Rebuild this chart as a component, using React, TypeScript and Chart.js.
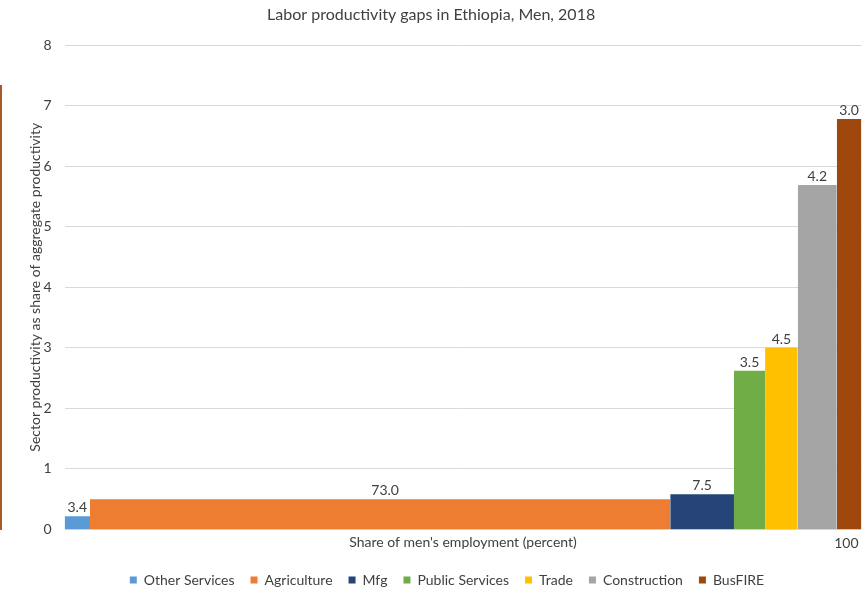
import React, { useEffect, useRef } from 'react';
import { Chart, registerables } from 'chart.js';

Chart.register(...registerables);

const chartTitle = 'Labor productivity gaps in Ethiopia, Men, 2018';
const xAxisTitle = "Share of men's employment (percent)";
const yAxisTitle = 'Sector productivity as share of aggregate productivity';

const sectors = ['Other Services', 'Agriculture', 'Mfg', 'Public Services', 'Trade', 'Construction', 'BusFIRE'];
// data labels shown above each bar (share of employment, percent)
const employmentShareLabels = [3.4, 73.0, 7.5, 3.5, 4.5, 4.2, 3.0];
// bar widths along the 0-100 employment axis
const employmentWidths = [3.2, 72.8, 8.0, 3.9, 4.1, 4.9, 3.1];
// sector productivity relative to aggregate productivity
const relativeProductivity = [0.22, 0.5, 0.58, 2.62, 3.0, 5.69, 6.78];
const sectorColors = ['#5B9BD5', '#ED7D31', '#264478', '#70AD47', '#FFC000', '#A5A5A5', '#9E480E'];
const xTickValues = [100];
const yMin = 0;
const yMax = 8;

const FONT = 'Lato, "Open Sans", sans-serif';
const TEXT = '#404040';
const FS = 14;

export default function App() {
  const canvasRef = useRef<HTMLCanvasElement | null>(null);

  useEffect(() => {
    document.body.style.margin = '0';
    const canvas = canvasRef.current;
    if (!canvas) return;

    let start = 0;
    const datasets = sectors.map((name, i) => {
      const x0 = start;
      const x1 = start + employmentWidths[i];
      start = x1;
      const h = relativeProductivity[i];
      return {
        label: name,
        data: [
          { x: x0, y: 0 },
          { x: x0, y: h },
          { x: x1, y: h },
          { x: x1, y: 0 },
        ],
        backgroundColor: sectorColors[i],
        borderColor: sectorColors[i],
        borderWidth: 0,
        pointRadius: 0,
        pointHoverRadius: 0,
        tension: 0,
        fill: 'origin',
      };
    });

    const barLabels = {
      id: 'barLabels',
      afterDatasetsDraw(chart: any) {
        const { ctx, scales } = chart;
        const xs = scales.x;
        const ys = scales.y;
        ctx.save();
        ctx.font = `${FS}px ${FONT}`;
        ctx.fillStyle = TEXT;
        ctx.textAlign = 'center';
        ctx.textBaseline = 'alphabetic';
        let s = 0;
        sectors.forEach((_, i) => {
          const mid = s + employmentWidths[i] / 2;
          s += employmentWidths[i];
          const px = xs.getPixelForValue(mid);
          const py = ys.getPixelForValue(relativeProductivity[i]);
          ctx.fillText(employmentShareLabels[i].toFixed(1), px + (i === 1 ? 5 : 0), py - 4);
        });
        ctx.restore();
      },
    };

    const legendPlace = {
      id: 'legendPlace',
      afterLayout(chart: any) {
        const l = chart.legend;
        if (!l || !l.lineWidths) return;
        const p = l.options.labels.padding;
        const lw = l.lineWidths[0];
        const targetCenter = 447;
        const desiredStart = targetCenter - (lw - p) / 2;
        const curStart = (l.left + p + l.right - lw) / 2;
        l.left += 2 * (desiredStart - curStart);
        const targetY = 580;
        const curY = l.top + p + FS / 2;
        const dy = targetY - curY;
        l.top += dy;
        l.bottom += dy;
      },
    };

    const chart = new Chart(canvas, {
      type: 'line',
      data: { datasets: datasets as any },
      options: {
        animation: false,
        responsive: false,
        events: [],
        layout: { padding: { left: 0, right: 4.7, top: 0, bottom: 0 } },
        plugins: {
          title: {
            display: true,
            text: chartTitle,
            color: TEXT,
            font: { family: FONT, size: 16, weight: 'normal' },
            padding: { top: 5.5, bottom: 20.3 },
          },
          legend: {
            position: 'bottom',
            labels: {
              boxWidth: 7,
              boxHeight: 7,
              padding: 16,
              color: TEXT,
              font: { family: FONT, size: FS },
            },
          },
          tooltip: { enabled: false },
        },
        scales: {
          x: {
            type: 'linear',
            min: 0,
            max: 100,
            afterBuildTicks: (scale: any) => {
              scale.ticks = xTickValues.map((v) => ({ value: v }));
            },
            afterFit: (scale: any) => {
              scale.height = 22.5;
            },
            ticks: {
              align: 'end',
              labelOffset: -3,
              padding: 5.5,
              color: TEXT,
              font: { family: FONT, size: FS },
              maxRotation: 0,
              autoSkip: false,
            },
            grid: { display: false, drawTicks: false },
            border: { display: false },
            title: {
              display: true,
              text: xAxisTitle,
              color: TEXT,
              font: { family: FONT, size: FS },
              padding: { top: 0, bottom: 1.6 },
            },
          },
          y: {
            min: yMin,
            max: yMax,
            afterFit: (scale: any) => {
              scale.width = 64.5;
            },
            ticks: {
              stepSize: 1,
              padding: 13,
              color: TEXT,
              font: { family: FONT, size: FS },
            },
            grid: { color: '#D9D9D9', drawTicks: false, lineWidth: 1 },
            border: { display: false },
            title: {
              display: true,
              text: yAxisTitle,
              color: TEXT,
              font: { family: FONT, size: FS },
              padding: { top: 26.6, bottom: 0 },
            },
          },
        },
      } as any,
      plugins: [barLabels, legendPlace],
    });

    return () => {
      chart.destroy();
    };
  }, []);

  return (
    <div style={{ position: 'relative', width: 867, height: 592, background: '#fff' }}>
      <canvas ref={canvasRef} width={867} height={592} style={{ display: 'block', width: 867, height: 592 }} />
      <div
        style={{
          position: 'absolute',
          left: 0,
          top: 85,
          width: 2,
          height: 445,
          background: '#A65C28',
        }}
      />
    </div>
  );
}
